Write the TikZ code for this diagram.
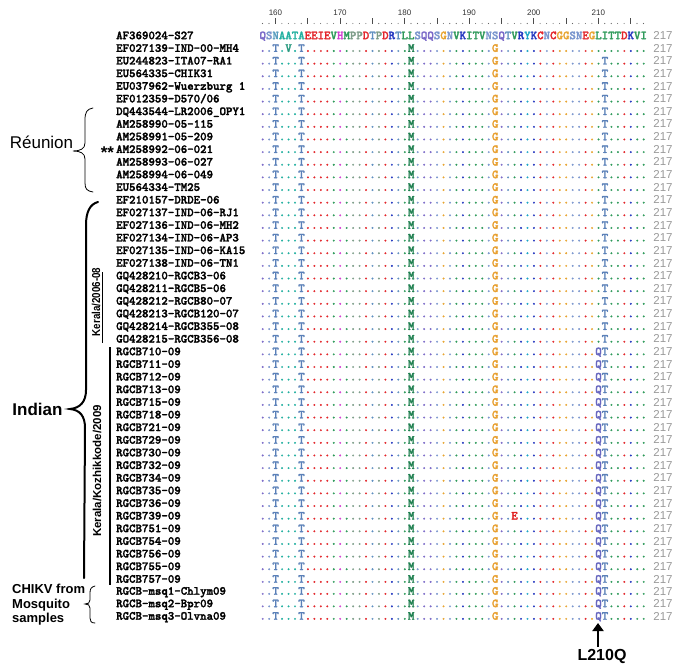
\documentclass[tikz,border=0pt]{standalone}
\usepackage{fontspec}
\setmainfont{Liberation Sans}
\newfontfamily\seqfont{lmmonolt10-bold}[Extension=.otf, FakeBold=2]
\usetikzlibrary{arrows.meta}
\ExplSyntaxOn
\cs_new:Npn \rp #1 {\prg_replicate:nn{#1}{.}}
\ExplSyntaxOff
\definecolor{kq}{HTML}{7B6AC8}
\definecolor{ks}{HTML}{7A96CE}
\definecolor{kn}{HTML}{5A9EC0}
\definecolor{ka}{HTML}{22B0A0}
\definecolor{kr}{HTML}{E3262B}
\definecolor{kg}{HTML}{2E9A5A}
\definecolor{kp}{HTML}{7C9C88}
\definecolor{kh}{HTML}{D33FD3}
\definecolor{kb}{HTML}{2438C0}
\definecolor{ko}{HTML}{E8A531}
\definecolor{ky}{HTML}{1FA7C7}
\definecolor{kt}{HTML}{5F8FC0}
\definecolor{mT}{HTML}{5A80B8}
\definecolor{mV}{HTML}{2A9A80}
\definecolor{mM}{HTML}{1F8050}
\definecolor{mG}{HTML}{E8A030}
\definecolor{mQ}{HTML}{6868C0}
\definecolor{mE}{HTML}{E02020}
\definecolor{numgray}{HTML}{9A9A9A}
\def\colkeys{qsnaaaarrrrghgpprtprbtggsqqsosgbgggssqtgbybrsroossroggggrbgg}
\def\refseq{QSNAATAEEIEVHMPPDTPDRTLLSQQSGNVKITVNSQTVRYKCNCGGSNEGLITTDKVI}
\def\seqX{..T.V.T\rp{16}M\rp{12}G\rp{23}}
\def\seqA{..T...T\rp{16}M\rp{12}G\rp{16}T\rp{6}}
\def\seqB{..T...T\rp{16}M\rp{12}G\rp{15}QT\rp{6}}
\def\seqE{..T...T\rp{16}M\rp{12}G..E\rp{12}QT\rp{6}}
\newif\ifrefrow
\def\popkey#1#2\relax{\def\curkey{#1}\def\keystr{#2}}
\def\colseq#1{\edef\rowstr{#1}\let\keystr\colkeys\expandafter\colseqa\rowstr\relax}
\def\colseqa#1{\ifx#1\relax\else\expandafter\popkey\keystr\relax\ifrefrow\textcolor{k\curkey}{#1}\else\ifx#1.\textcolor{k\curkey}{.}\else\textcolor{m#1}{#1}\fi\fi\expandafter\colseqa\fi}
\tikzset{
  monotxt/.style={inner sep=0pt, font=\fontsize{12.3}{14}\selectfont\seqfont},
  namecol/.style={monotxt, anchor=base west, text=black},
  seqcol/.style={monotxt, anchor=base west},
  numcol/.style={inner sep=0pt, anchor=base, font=\fontsize{11.5}{13}\selectfont, text=numgray},
  rulenum/.style={inner sep=0pt, font=\fontsize{8}{10}\selectfont, text=black!80},
  grplabel/.style={inner sep=0pt, font=\fontsize{11.5}{13}\selectfont\bfseries},
  bigbrace/.style={line width=2pt, line cap=round},
  smallbrace/.style={line width=0.8pt, line cap=round},
  grpline/.style={line width=1.8pt}
}
\begin{document}
\begin{tikzpicture}[x=1pt,y=-1pt]
\fill[white] (0,0) rectangle (685,671);
\useasboundingbox (0,0) rectangle (685,671);
% ruler
\foreach \p in {160,170,...,210}
  \node[rulenum] (r\p) at ({259.3+6.457*(\p-158+0.5)},12.5) {\p};
\foreach \p in {158,...,217}{
  \pgfmathtruncatemacro\md{mod(\p,5)}
  \ifnum\md=0
    \draw[black!70, line width=0.7pt] ({259.3+6.457*(\p-158+0.5)},18.5) -- ++(0,6);
  \else
    \fill[black!60] ({259.3+6.457*(\p-158+0.5)},23.5) circle (0.55);
  \fi
}
% reference row
\node[namecol] (n1) at (116,39.2) {AF369024-S27};
\node[seqcol] (s1) at (259.3,39.2) {\refrowtrue\colseq{\refseq}};
\node[numcol] (c1) at (663,39.5) {217};
% other rows
\foreach \nm/\ty [count=\r from 2] in {
 {EF027139-IND-00-MH4}/X, {EU244823-ITA07-RA1}/A, {EU564335-CHIK31}/A,
 {EU037962-Wuerzburg 1}/A, {EF012359-D570/06}/A, {DQ443544-LR2006\_OPY1}/A,
 {AM258990-05-115}/A, {AM258991-05-209}/A, {AM258992-06-021}/A,
 {AM258993-06-027}/A, {AM258994-06-049}/A, {EU564334-TM25}/A,
 {EF210157-DRDE-06}/A, {EF027137-IND-06-RJ1}/A, {EF027136-IND-06-MH2}/A,
 {EF027134-IND-06-AP3}/A, {EF027135-IND-06-KA15}/A, {EF027138-IND-06-TN1}/A,
 {GQ428210-RGCB3-06}/A, {GQ428211-RGCB5-06}/A, {GQ428212-RGCB80-07}/A,
 {GQ428213-RGCB120-07}/A, {GQ428214-RGCB355-08}/A, {GO428215-RGCB356-08}/A,
 {RGCB710-09}/B, {RGCB711-09}/B, {RGCB712-09}/B, {RGCB713-09}/B,
 {RGCB715-09}/B, {RGCB718-09}/B, {RGCB721-09}/B, {RGCB729-09}/B,
 {RGCB730-09}/B, {RGCB732-09}/B, {RGCB734-09}/B, {RGCB735-09}/B,
 {RGCB736-09}/B, {RGCB739-09}/E, {RGCB751-09}/B, {RGCB754-09}/B,
 {RGCB756-09}/B, {RGCB755-09}/B, {RGCB757-09}/B,
 {RGCB-msq1-Chlym09}/B, {RGCB-msq2-Bpr09}/B, {RGCB-msq3-Olvna09}/B} {
  \pgfmathsetmacro\yy{\r<45 ? 35.5+12.64*(\r-1) : 591+12.5*(\r-45)}
  \node[namecol] (n\r) at (116,\yy+3.7) {\nm};
  \node[seqcol] (s\r) at (259.3,\yy+3.7) {\colseq{\csname seq\ty\endcsname}};
  \node[numcol] (c\r) at (663,\yy+4) {217};
}
% Reunion group
\node[inner sep=0pt, font=\fontsize{17}{20}\selectfont] (reu) at (41.5,142) {Réunion};
\draw[smallbrace] (93,108) .. controls (87,109) and (85,112) .. (85,120) -- (85,143)
  .. controls (85,149) and (80,151) .. (73,151) .. controls (80,151) and (85,153) .. (85,159)
  -- (85,183) .. controls (85,189) and (87,191) .. (93,192);
\node[inner sep=0pt, font=\fontsize{17}{18}\selectfont\bfseries] (star) at (107.5,153) {**};
% Indian group
\node[inner sep=0pt, font=\fontsize{17}{20}\selectfont\bfseries] (ind) at (37.5,409) {Indian};
\draw[bigbrace] (98,202) .. controls (90,204) and (86,212) .. (86,225) -- (86,390)
  .. controls (86,402) and (80,408) .. (70,409) .. controls (80,410) and (85,416) .. (85,428)
  -- (84,578);
% Kerala sub-groups
\node[grplabel, rotate=90] (k1) at (96,302) {\scalebox{0.85}[1]{Kerala/2006-08}};
\draw[grpline] (102.5,272) -- (102.5,343);
\node[grplabel, rotate=90] (k2) at (97,471) {Kerala/Kozhikkode/2009};
\draw[grpline] (110,347) -- (110,585);
% mosquito group
\node[inner sep=0pt, anchor=west, align=left, font=\fontsize{13}{14.6}\selectfont\bfseries] (mos) at (12,605) {CHIKV from\\Mosquito\\samples};
\draw[smallbrace] (95,586) .. controls (91,587) and (90,589) .. (90,593) -- (90,600)
  .. controls (90,603) and (88,604) .. (85,604) .. controls (88,604) and (90,605) .. (90,608)
  -- (90,618) .. controls (90,621) and (91,623) .. (95,623);
% mutation arrow
\node[inner sep=0pt, font=\fontsize{16}{18}\selectfont\bfseries] (mut) at (602,656) {L210Q};
\coordinate (tail) at (598,647);
\coordinate (tip) at (598,623);
\draw[line width=2.5pt, -{Triangle[width=11pt,length=8pt]}] (tail) -- (tip);
\end{tikzpicture}
\end{document}
